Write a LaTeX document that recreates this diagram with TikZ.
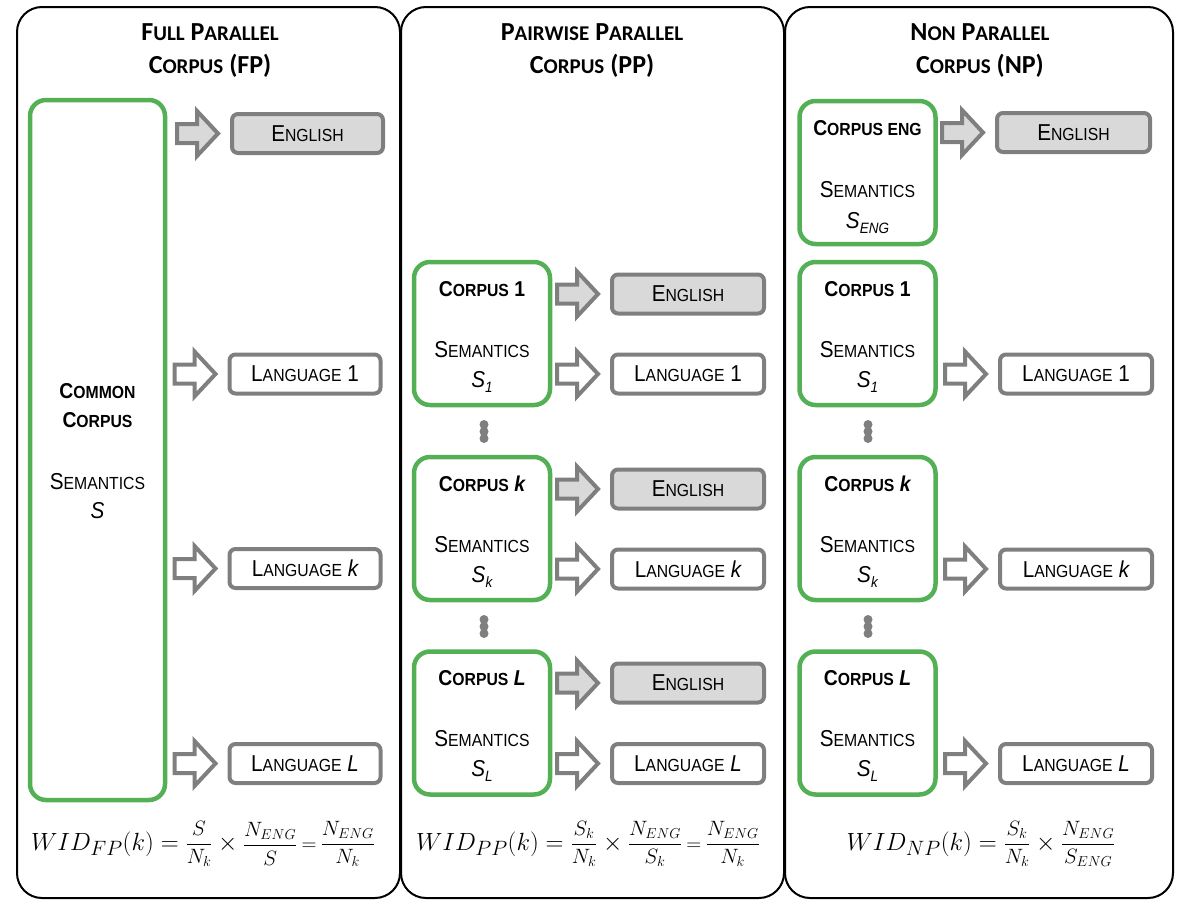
\documentclass[tikz,border=0pt]{standalone}
\usepackage{fontspec}
\newfontfamily\bodyf[FakeStretch=0.9]{Liberation Sans}
\newfontfamily\titlef{Carlito}
\usetikzlibrary{calc}
\definecolor{grn}{RGB}{84,176,84}
\definecolor{gline}{RGB}{127,127,127}
\definecolor{gfill}{RGB}{217,217,217}
\newcommand\Lg{\fontsize{23}{27}\selectfont}
\newcommand\Bg{\fontsize{21.5}{26}\selectfont}
\newcommand\Sm{\fontsize{17.5}{20}\selectfont}
\newcommand\Tl{\fontsize{26}{30}\selectfont}
\newcommand\Ts{\fontsize{21}{24}\selectfont}
\newcommand\subi[1]{\raisebox{-5pt}{\fontsize{15}{15}\selectfont #1}}
\newcommand\ffrac[2]{\vcenter{\hbox{\fontsize{20.74}{24}\selectfont$\displaystyle\frac{#1}{#2}$}}}
\newcommand\barrow[2]{%
  \draw[draw=gline,line width=4pt,fill=#2,line join=miter]
    ($(#1.west)+(-53,-9.5)$) -- ($(#1.west)+(-33,-9.5)$) -- ($(#1.west)+(-33,-22.5)$)
    -- ($(#1.west)+(-12,0)$) -- ($(#1.west)+(-33,22.5)$) -- ($(#1.west)+(-33,9.5)$)
    -- ($(#1.west)+(-53,9.5)$) -- cycle;}
\begin{document}
\begin{tikzpicture}[x=1pt,y=-1pt,
  panel/.style={draw=black,line width=2pt,rounded corners=25pt},
  corpus/.style={draw=grn,line width=4.5pt,rounded corners=16pt,minimum width=136pt,minimum height=143pt,inner sep=0pt},
  langbox/.style={draw=gline,line width=4pt,rounded corners=6pt,fill=white,minimum width=151pt,minimum height=39pt,inner sep=0pt,font=\bodyf\Lg},
  engbox/.style={langbox,fill=gfill},
  lbl/.style={anchor=base,inner sep=0pt,font=\bodyf\Lg},
  blbl/.style={anchor=base,inner sep=0pt,font=\bodyf\bfseries\Bg},
  ttl/.style={anchor=base,inner sep=0pt,font=\titlef\bfseries\Tl},
  frm/.style={anchor=base,inner sep=0pt,font=\fontsize{24.88}{30}\selectfont},
  dot/.style={circle,fill=gline,inner sep=0pt,minimum size=9pt}]
\useasboundingbox (0,0) rectangle (1186,910);
% panels
\draw[panel] (17,7) rectangle (400,898);
\draw[panel] (401,7) rectangle (784,898);
\draw[panel] (785,7) rectangle (1173,898);
% titles
\node[ttl] (t1a) at (210,40) {F{\Ts ULL} P{\Ts ARALLEL}};
\node[ttl] (t1b) at (210,73) {C{\Ts ORPUS} (FP)};
\node[ttl] (t2a) at (592,40) {P{\Ts AIRWISE} P{\Ts ARALLEL}};
\node[ttl] (t2b) at (592,73) {C{\Ts ORPUS} (PP)};
\node[ttl] (t3a) at (980,40) {N{\Ts ON} P{\Ts ARALLEL}};
\node[ttl] (t3b) at (980,73) {C{\Ts ORPUS} (NP)};
% ---------- panel 1
\node[corpus,minimum width=135pt,minimum height=700pt] (cc) at (97.5,450) {};
\node[blbl] (cc1) at (97.5,398) {C{\Sm OMMON}};
\node[blbl] (cc2) at (97.5,427) {C{\Sm ORPUS}};
\node[lbl] (cc3) at (97.5,489) {S{\Sm EMANTICS}};
\node[lbl] (cc4) at (97.5,518) {\itshape S};
\node[engbox] (fe) at (307.5,133.5) {E{\Sm NGLISH}};
\node[langbox] (f1) at (305,374) {L{\Sm ANGUAGE} 1};
\node[langbox] (fk) at (305,568.5) {L{\Sm ANGUAGE} \itshape k};
\node[langbox] (fl) at (305,763.5) {L{\Sm ANGUAGE} \itshape L};
\barrow{fe}{gfill}
\barrow{f1}{white}
\barrow{fk}{white}
\barrow{fl}{white}
\node[frm] (fp) at (203,850) {$WID_{FP}(k) = \ffrac{S}{N_k}\times\ffrac{N_{ENG}}{S}\,{\scriptstyle=}\,\ffrac{N_{ENG}}{N_k}$};
% ---------- panel 2
\node[corpus] (p1) at (482,333.5) {};
\node[corpus] (pk) at (482,528.5) {};
\node[corpus] (pl) at (482,723) {};
\node[blbl] (p1a) at (482,296) {C{\Sm ORPUS} 1};
\node[lbl] (p1b) at (482,357) {S{\Sm EMANTICS}};
\node[lbl] (p1c) at (482,387) {\itshape S\subi{1}};
\node[blbl] (pka) at (482,491) {C{\Sm ORPUS} \itshape k};
\node[lbl] (pkb) at (482,552) {S{\Sm EMANTICS}};
\node[lbl] (pkc) at (482,582) {\itshape S\subi{k}};
\node[blbl] (pla) at (482,685) {C{\Sm ORPUS} \itshape L};
\node[lbl] (plb) at (482,746) {S{\Sm EMANTICS}};
\node[lbl] (plc) at (482,776) {\itshape S\subi{L}};
\node[engbox,minimum width=152pt] (pe1) at (688,294) {E{\Sm NGLISH}};
\node[langbox,minimum width=152pt] (pl1) at (688,374) {L{\Sm ANGUAGE} 1};
\node[engbox,minimum width=152pt] (pek) at (688,489) {E{\Sm NGLISH}};
\node[langbox,minimum width=152pt] (plk) at (688,569) {L{\Sm ANGUAGE} \itshape k};
\node[engbox,minimum width=152pt] (pel) at (688,683) {E{\Sm NGLISH}};
\node[langbox,minimum width=152pt] (pll) at (688,763.5) {L{\Sm ANGUAGE} \itshape L};
\barrow{pe1}{gfill}
\barrow{pl1}{white}
\barrow{pek}{gfill}
\barrow{plk}{white}
\barrow{pel}{gfill}
\barrow{pll}{white}
\node[dot] (pd1) at (484,424.5) {};
\node[dot] (pd2) at (484,431.5) {};
\node[dot] (pd3) at (484,438.5) {};
\node[dot] (pd4) at (484,619.5) {};
\node[dot] (pd5) at (484,626.5) {};
\node[dot] (pd6) at (484,633.5) {};
\node[frm] (pp) at (588,850) {$WID_{PP}(k) = \ffrac{S_k}{N_k}\times\ffrac{N_{ENG}}{S_k}\,{\scriptstyle=}\,\ffrac{N_{ENG}}{N_k}$};
% ---------- panel 3
\node[corpus] (ne) at (867.5,172.5) {};
\node[corpus] (n1) at (867.5,333.5) {};
\node[corpus] (nk) at (867.5,528.5) {};
\node[corpus] (nl) at (867.5,723) {};
\node[blbl] (nea) at (867.5,135) {C{\Sm ORPUS ENG}};
\node[lbl] (neb) at (867.5,197) {S{\Sm EMANTICS}};
\node[lbl] (nec) at (867.5,228) {\itshape S\subi{ENG}};
\node[blbl] (n1a) at (867.5,296) {C{\Sm ORPUS} 1};
\node[lbl] (n1b) at (867.5,357) {S{\Sm EMANTICS}};
\node[lbl] (n1c) at (867.5,387) {\itshape S\subi{1}};
\node[blbl] (nka) at (867.5,491) {C{\Sm ORPUS} \itshape k};
\node[lbl] (nkb) at (867.5,552) {S{\Sm EMANTICS}};
\node[lbl] (nkc) at (867.5,582) {\itshape S\subi{k}};
\node[blbl] (nla) at (867.5,685) {C{\Sm ORPUS} \itshape L};
\node[lbl] (nlb) at (867.5,746) {S{\Sm EMANTICS}};
\node[lbl] (nlc) at (867.5,776) {\itshape S\subi{L}};
\node[engbox,minimum width=153pt] (nee) at (1073.5,132.5) {E{\Sm NGLISH}};
\node[langbox,minimum width=152pt] (nl1) at (1076,374) {L{\Sm ANGUAGE} 1};
\node[langbox,minimum width=152pt] (nlk) at (1076,569) {L{\Sm ANGUAGE} \itshape k};
\node[langbox,minimum width=152pt] (nll) at (1076,763.5) {L{\Sm ANGUAGE} \itshape L};
\barrow{nee}{gfill}
\barrow{nl1}{white}
\barrow{nlk}{white}
\barrow{nll}{white}
\node[dot] (nd1) at (868,424.5) {};
\node[dot] (nd2) at (868,431.5) {};
\node[dot] (nd3) at (868,438.5) {};
\node[dot] (nd4) at (868,619.5) {};
\node[dot] (nd5) at (868,626.5) {};
\node[dot] (nd6) at (868,633.5) {};
\node[frm] (np) at (981,850) {$WID_{NP}(k) = \ffrac{S_k}{N_k}\times\ffrac{N_{ENG}}{S_{ENG}}$};
\end{tikzpicture}
\end{document}
